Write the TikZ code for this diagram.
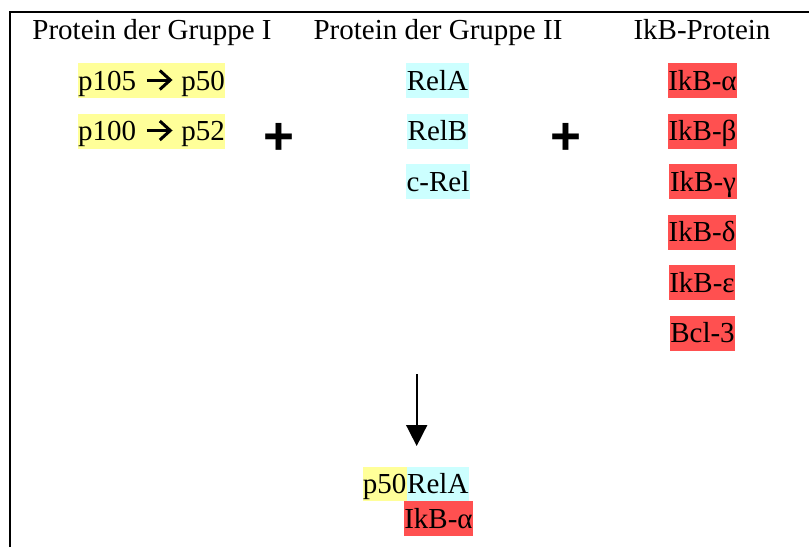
\documentclass[tikz,border=0pt]{standalone}
\usepackage{fontspec}
\setmainfont{Liberation Serif}
\newfontfamily\plusfont{Liberation Sans}
\usetikzlibrary{arrows.meta,calc}
\definecolor{hlyellow}{HTML}{FFFF99}
\definecolor{hlcyan}{HTML}{CCFFFF}
\definecolor{hlred}{HTML}{FF5050}
\begin{document}
\begin{tikzpicture}[x=1pt,y=-1pt,
  lbl/.style={font=\fontsize{29}{35}\selectfont, inner sep=0pt,
    text height=27pt, text depth=8pt},
  header/.style={lbl, anchor=base},
  hl/.style={lbl, minimum height=35pt, anchor=north},
  grpone/.style={hl, fill=hlyellow},
  grptwo/.style={hl, fill=hlcyan},
  ikb/.style={hl, fill=hlred},
  plussign/.style={font=\plusfont\bfseries\fontsize{53}{60}\selectfont,
    inner sep=0pt, anchor=base},
  glypharrow/.style={line width=3pt, line join=miter},
  reaction/.style={line width=1.7pt, -{Triangle[width=21pt,length=21pt]}},
  frameline/.style={line width=2.2pt}]

% page and frame
\fill[white] (0,0) rectangle (809,547);
\useasboundingbox (0,0) rectangle (809,547);
\draw[frameline] (10.3,547) -- (10.3,12) -- (809,12);

% column headers
\node[header] (h1) at (152,39) {Protein der Gruppe I};
\node[header] (h2) at (438,39) {Protein der Gruppe II};
\node[header] (h3) at (702,39) {IkB-Protein};

% group I
\node[grpone, minimum width=147pt] (g1a) at (151.5,63) {p105\hspace{45.5pt}p50};
\node[grpone, minimum width=147pt] (g1b) at (151.5,113.5) {p100\hspace{45.5pt}p52};
\foreach \n in {g1a,g1b}{
  \draw[glypharrow] ($(\n.north west)+(69,17)$) -- ($(\n.north west)+(92,17)$);
  \draw[glypharrow] ($(\n.north west)+(82,7.5)$) -- ($(\n.north west)+(92.5,17)$)
    -- ($(\n.north west)+(82,26.5)$);
}

% group II
\node[grptwo, minimum width=63pt] (relA) at (437.5,63) {RelA};
\node[grptwo, minimum width=61pt] (relB) at (437.5,113.5) {RelB};
\node[grptwo, minimum width=64pt] (cRel) at (438,164) {c-Rel};

% IkB proteins
\node[ikb, minimum width=69pt] (ikba) at (702.5,63) {IkB-α};
\node[ikb, minimum width=69pt] (ikbb) at (702.5,113.5) {IkB-β};
\node[ikb, minimum width=68pt] (ikbg) at (703,164) {IkB-γ};
\node[ikb, minimum width=68pt] (ikbd) at (702,214.5) {IkB-δ};
\node[ikb, minimum width=66pt] (ikbe) at (702,265) {IkB-ε};
\node[ikb, minimum width=65pt] (bcl) at (702.5,315.5) {Bcl-3};

% plus signs
\node[plussign] (plus1) at (278.5,154) {+};
\node[plussign] (plus2) at (566,154) {+};

% reaction arrow
\coordinate (arrtop) at (416.7,374);
\coordinate (arrend) at (416.7,446);
\draw[reaction] (arrtop) -- (arrend);

% resulting complex
\node[grpone, minimum width=44pt, minimum height=34pt, text height=26.5pt,
  text depth=7.5pt] (cp50) at (384.7,467) {p50};
\node[grptwo, minimum width=62.3pt, minimum height=34pt, text height=26.5pt,
  text depth=7.5pt] (crelA) at (437.85,467) {RelA};
\node[ikb, minimum width=69pt] (cikb) at (438.5,501) {IkB-α};
\end{tikzpicture}
\end{document}
